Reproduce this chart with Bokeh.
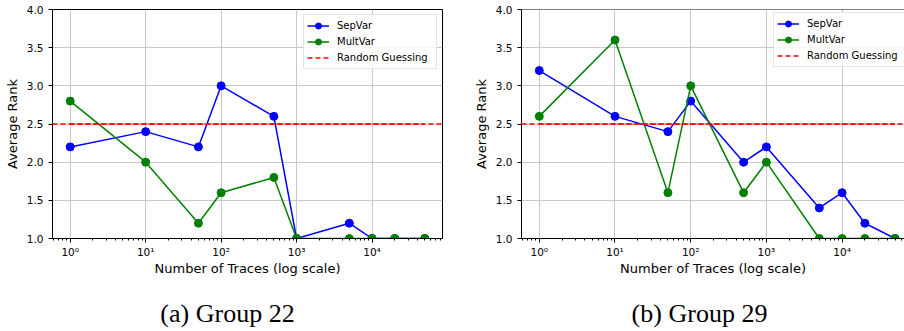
import math
from bokeh.plotting import figure
from bokeh.layouts import row, column
from bokeh.models import (Range1d, FixedTicker, CustomJSTickFormatter, Span,
                          Legend, LegendItem, Label)
from bokeh.embed import file_html
from bokeh.resources import INLINE

# ---------------- data ----------------
traces = [1, 10, 50, 100, 500, 1000, 5000, 10000, 20000, 50000]
g22_sepvar = [2.2, 2.4, 2.2, 3.0, 2.6, 1.0, 1.2, 1.0, 1.0, 1.0]
g22_multvar = [2.8, 2.0, 1.2, 1.6, 1.8, 1.0, 1.0, 1.0, 1.0, 1.0]
g29_sepvar = [3.2, 2.6, 2.4, 2.8, 2.0, 2.2, 1.4, 1.6, 1.2, 1.0]
g29_multvar = [2.6, 3.6, 1.6, 3.0, 1.6, 2.0, 1.0, 1.0, 1.0, 1.0]
random_guess = 2.5
series_names = ["SepVar", "MultVar", "Random Guessing"]
x_ticks = [1, 10, 100, 1000, 10000]
x_tick_labels = ["10\u2070", "10\u00b9", "10\u00b2", "10\u00b3", "10\u2074"]
y_ticks = [1.0, 1.5, 2.0, 2.5, 3.0, 3.5, 4.0]
y_tick_labels = ["1.0", "1.5", "2.0", "2.5", "3.0", "3.5", "4.0"]
y_min, y_max = 1.0, 4.0
x_label = "Number of Traces (log scale)"
y_label = "Average Rank"
captions = ["(a) Group 22", "(b) Group 29"]

FONT = "DejaVu Sans"
minor = [m * 10.0 ** k for k in range(-1, 5) for m in range(2, 10)]

lo = math.log10(min(traces))
hi = math.log10(max(traces))
pad = 0.05 * (hi - lo)


def make_panel(sep, mult, border_left, frame_w, visible_frac, full_box, legend_loc):
    x_start = 10 ** (lo - pad)
    x_end = 10 ** (lo - pad + (hi - lo + 2 * pad) * visible_frac)
    p = figure(x_axis_type="log", output_backend="svg", toolbar_location=None,
               frame_width=frame_w, frame_height=229,
               min_border_left=border_left, min_border_right=(450 - border_left - frame_w) if full_box else 0,
               min_border_top=9, min_border_bottom=42,
               x_range=Range1d(x_start, x_end), y_range=Range1d(y_min, y_max))
    p.background_fill_color = "white"
    p.border_fill_color = "white"
    if full_box:
        p.outline_line_color = "black"
        p.outline_line_width = 1
    else:
        p.outline_line_color = None
        p.add_layout(Span(location=y_max, dimension="width", line_color="black", line_width=1))

    # axes
    p.xaxis.ticker = FixedTicker(ticks=x_ticks, minor_ticks=minor)
    p.xaxis.formatter = CustomJSTickFormatter(
        args=dict(xt=x_ticks, xl=x_tick_labels),
        code="const i = xt.indexOf(Math.round(tick)); return i >= 0 ? xl[i] : '';")
    p.yaxis.ticker = FixedTicker(ticks=y_ticks)
    p.yaxis.formatter = CustomJSTickFormatter(
        args=dict(yt=y_ticks, yl=y_tick_labels),
        code="const i = yt.indexOf(tick); return i >= 0 ? yl[i] : tick.toFixed(1);")
    for ax in (p.xaxis[0], p.yaxis[0]):
        ax.axis_line_color = "black"
        ax.axis_line_width = 1
        ax.major_tick_line_color = "black"
        ax.major_tick_out = 4
        ax.major_tick_in = 0
        ax.major_label_text_font = FONT
        ax.major_label_text_font_size = "10.5px"
        ax.major_label_text_color = "black"
        ax.axis_label_text_font = FONT
        ax.axis_label_text_font_size = "13px"
        ax.axis_label_text_font_style = "normal"
        ax.axis_label_text_color = "black"
    p.xaxis.minor_tick_line_color = "black"
    p.xaxis.minor_tick_out = 2
    p.xaxis.minor_tick_in = 0
    p.yaxis.minor_tick_line_color = None
    p.xaxis.major_label_standoff = 3
    p.xaxis.axis_label_standoff = 0
    p.yaxis.major_label_standoff = 5
    p.yaxis.axis_label_standoff = 4
    p.xaxis.axis_label = x_label
    p.yaxis.axis_label = y_label

    # grid
    p.xgrid.ticker = FixedTicker(ticks=x_ticks)
    p.ygrid.ticker = FixedTicker(ticks=y_ticks)
    for g in (p.xgrid[0], p.ygrid[0]):
        g.grid_line_color = "#c8c8c8"
        g.grid_line_width = 1

    # series
    l1 = p.line(traces, sep, line_color="blue", line_width=1.5)
    m1 = p.scatter(traces, sep, size=8, fill_color="blue", line_color="blue")
    l2 = p.line(traces, mult, line_color="green", line_width=1.5)
    m2 = p.scatter(traces, mult, size=8, fill_color="green", line_color="green")
    p.add_layout(Span(location=random_guess, dimension="width", line_color="red",
                      line_width=1.6, line_dash="5 3"))
    lr = p.line(x=[traces[0], traces[-1]], y=[random_guess, random_guess],
                line_color="red", line_width=1.6, line_dash="5 3")

    legend = Legend(items=[LegendItem(label=series_names[0], renderers=[l1, m1]),
                           LegendItem(label=series_names[1], renderers=[l2, m2]),
                           LegendItem(label=series_names[2], renderers=[lr])],
                    location=legend_loc, margin=5, padding=3, spacing=1,
                    glyph_width=22, glyph_height=15, label_height=15, label_width=96,
                    label_standoff=8,
                    label_text_font=FONT, label_text_font_size="10px", label_text_color="black",
                    border_line_color="#cccccc", border_line_width=1,
                    background_fill_color="white", background_fill_alpha=0.85)
    p.add_layout(legend, "center")
    return p


p1 = make_panel(g22_sepvar, g22_multvar, 52, 390, 1.0, True, "top_right")
p2 = make_panel(g29_sepvar, g29_multvar, 71, 383, 383 / 391.3, False, (252, 229 - 5 - 53))

cap = figure(width=904, height=51, output_backend="svg", toolbar_location=None,
             x_range=Range1d(0, 904), y_range=Range1d(0, 51),
             x_axis_location=None, y_axis_location=None,
             min_border=0, min_border_left=0, min_border_right=0,
             min_border_top=0, min_border_bottom=0)
cap.outline_line_color = None
cap.xgrid.visible = False
cap.ygrid.visible = False
cap.border_fill_color = "white"
for cx, txt in zip([227, 699], captions):
    cap.add_layout(Label(x=cx, y=18, x_units="screen", y_units="screen", text=txt,
                         text_align="center", text_baseline="middle",
                         text_font="Liberation Serif", text_font_size="26px",
                         text_color="black"))

layout = column(row(p1, p2), cap)
open("out.html", "w").write(file_html(layout, INLINE))
